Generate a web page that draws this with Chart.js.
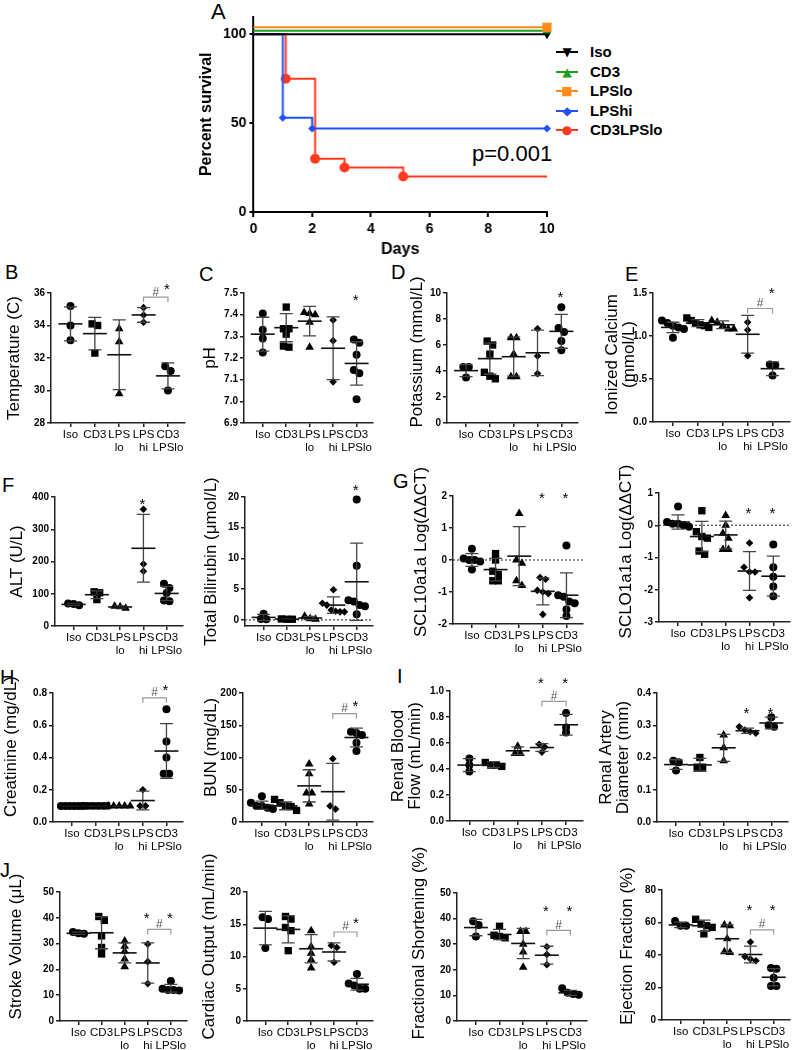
<!DOCTYPE html>
<html><head><meta charset="utf-8">
<script src="https://cdn.jsdelivr.net/npm/chart.js@4.4.0/dist/chart.umd.min.js"></script>
<style>
html,body{margin:0;padding:0;background:#fff;width:795px;height:1050px;overflow:hidden;position:relative;font-family:'Liberation Sans',Arial,sans-serif;}
canvas{position:absolute;}
.lt{position:absolute;font-size:20px;line-height:1;color:#000;}
.lg{position:absolute;left:556px;height:18px;width:110px;}
.lg .ln{position:absolute;left:0;top:8px;width:22px;height:0;border-top:2px solid;}
.lg .mk{position:absolute;left:4px;top:0;width:14px;text-align:center;font-family:'DejaVu Sans';font-size:12px;line-height:18px;}
.lg .tx{position:absolute;left:34px;top:0;font-weight:bold;font-size:15px;line-height:18px;color:#000;}
#pval{position:absolute;left:472px;top:143px;font-size:22px;line-height:1;}
</style></head><body>
<div class="lt" style="left:211px;top:1px;font-size:22px">A</div>
<div class="lt" style="left:5px;top:262px">B</div>
<div class="lt" style="left:199px;top:264px">C</div>
<div class="lt" style="left:391px;top:262px">D</div>
<div class="lt" style="left:625px;top:264px">E</div>
<div class="lt" style="left:2px;top:475px">F</div>
<div class="lt" style="left:393px;top:471px">G</div>
<div class="lt" style="left:0px;top:667px">H</div>
<div class="lt" style="left:397px;top:666px">I</div>
<div class="lt" style="left:0px;top:860px">J</div>
<div id="pval">p=0.001</div>
<div id="legend"></div>
<script>
// ---------- Panel A: survival ----------
const survSeries = ['Iso', 'CD3', 'LPSlo', 'LPShi', 'CD3LPSlo'];
const isoDays = [0, 10],               isoSurv = [100, 100];
const cd3Days = [0, 10],               cd3Surv = [100, 100];
const lpsloDays = [0, 10],             lpsloSurv = [100, 100];
const lpshiDays = [0, 1, 2, 10],       lpshiSurv = [100, 53, 47, 47];
const comboDays = [0, 1.1, 2.1, 3.1, 5.1, 10], comboSurv = [100, 75, 30, 25, 20, 20];
const survDayTicks = [0, 2, 4, 6, 8, 10];
const survPctTicks = [0, 50, 100];

// ---------- Scatter panels ----------
const groupLabels = [['Iso'], ['CD3'], ['LPS', 'lo'], ['LPS', 'hi'], ['CD3', 'LPSlo']];

const temperature = [[35.2, 34.0, 33.1], [34.1, 34.0, 32.3], [33.8, 33.0, 29.8], [35.1, 34.65, 34.2], [31.5, 31.2, 30.0]];
const temperatureMean = [34.1, 33.5, 32.2, 34.65, 30.9];
const temperatureSD = [1.05, 1.0, 2.15, 0.45, 0.8];
const temperatureTicks = [28, 30, 32, 34, 36];

const pH = [[7.405, 7.33, 7.29, 7.225], [7.435, 7.335, 7.335, 7.31, 7.255, 7.25], [7.41, 7.405, 7.40, 7.365, 7.25], [7.375, 7.28, 7.09], [7.285, 7.27, 7.215, 7.145, 7.13, 7.01]];
const pHMean = [7.31, 7.34, 7.37, 7.245, 7.175];
const pHSD = [0.078, 0.065, 0.068, 0.145, 0.1];
const pHTicks = [6.9, 7.0, 7.1, 7.2, 7.3, 7.4, 7.5];

const potassium = [[4.3, 4.3, 3.5], [6.3, 6.0, 5.3, 3.9, 3.6, 3.4], [6.55, 6.55, 5.3, 3.55, 3.55], [7.25, 5.15, 3.8], [8.9, 7.3, 7.0, 6.3, 5.6]];
const potassiumMean = [4.03, 4.95, 5.1, 5.4, 7.05];
const potassiumSD = [0.46, 1.2, 1.5, 1.75, 1.3];
const potassiumTicks = [0, 2, 4, 6, 8, 10];

const calcium = [[1.18, 1.15, 1.12, 1.10, 1.08, 0.98], [1.21, 1.18, 1.15, 1.13, 1.12, 1.10], [1.18, 1.16, 1.12, 1.08, 1.08], [1.16, 1.07, 0.77], [0.67, 0.66, 0.54]];
const calciumMean = [1.10, 1.15, 1.13, 1.02, 0.62];
const calciumSD = [0.06, 0.04, 0.045, 0.22, 0.08];
const calciumTicks = [0, 0.5, 1.0, 1.5];

const alt = [[64, 70, 68], [106, 103, 82], [55, 60, 61], [362, 192, 170], [131, 118, 102, 79, 77]];
const altMean = [67, 97, 59, 241, 101];
const altSD = [3, 12, 3, 105, 22];
const altTicks = [0, 100, 200, 300, 400];

const bilirubin = [[1.0, 0.15, 0.1], [0.15, 0.1, 0.1], [0.6, 0.2, 0.1], [4.9, 2.7, 2.4, 1.6, 1.4, 1.3, 1.3], [19.6, 8.8, 3.2, 3.0, 2.4, 2.2, 0.9]];
const bilirubinMean = [0.4, 0.12, 0.3, 2.4, 6.2];
const bilirubinSD = [0.5, 0.03, 0.26, 1.35, 6.3];
const bilirubinTicks = [0, 5, 10, 15, 20];

const scl10 = [[0.35, 0.05, 0.0, 0.0, -0.05, -0.3], [0.2, 0.0, -0.35, -0.45, -0.65, -0.65], [1.45, 0.0, -0.1, -0.65, -0.8], [-0.55, -0.6, -0.95, -1.0, -1.05, -1.7], [0.45, -1.1, -1.15, -1.3, -1.35, -1.55, -1.75]];
const scl10Mean = [0.0, -0.3, 0.12, -0.98, -1.1];
const scl10SD = [0.2, 0.35, 0.92, 0.42, 0.7];
const scl10Ticks = [-2, -1, 0, 1, 2];

const sclo1 = [[0.58, 0.1, 0.05, 0.05, 0.0, -0.05], [0.45, -0.2, -0.35, -0.4, -0.8, -0.9], [0.3, 0.0, -0.25, -0.4, -0.75, -0.75], [-0.55, -1.3, -1.45, -1.45, -2.25], [-0.6, -1.3, -1.6, -1.9, -2.2]];
const sclo1Mean = [0.1, -0.35, -0.3, -1.42, -1.58];
const sclo1SD = [0.22, 0.47, 0.43, 0.6, 0.62];
const sclo1Ticks = [-3, -2, -1, 0, 1];

const creatinine = [[0.1, 0.1, 0.1, 0.1, 0.1, 0.1], [0.1, 0.1, 0.1, 0.1, 0.1], [0.1, 0.1, 0.1, 0.1, 0.1], [0.2, 0.1, 0.1], [0.7, 0.5, 0.4, 0.3, 0.3]];
const creatinineMean = [0.1, 0.1, 0.1, 0.133, 0.44];
const creatinineSD = [0, 0, 0, 0.058, 0.17];
const creatinineTicks = [0, 0.2, 0.4, 0.6, 0.8];

const bun = [[40, 30, 25, 25, 22, 20], [35, 30, 25, 24, 18], [90, 75, 45, 45, 28], [98, 25, 20], [140, 138, 135, 123, 110]];
const bunMean = [26, 25, 56, 47, 131];
const bunSD = [6.5, 6, 25, 44, 14.5];
const bunTicks = [0, 50, 100, 150, 200];

const flow = [[0.48, 0.43, 0.38], [0.45, 0.43, 0.43, 0.42], [0.575, 0.52, 0.52], [0.59, 0.57, 0.53], [0.83, 0.72, 0.68]];
const flowMean = [0.43, 0.435, 0.54, 0.565, 0.74];
const flowSD = [0.05, 0.022, 0.03, 0.03, 0.08];
const flowTicks = [0, 0.2, 0.4, 0.6, 0.8, 1.0];

const artery = [[0.19, 0.185, 0.16], [0.20, 0.17, 0.17], [0.27, 0.23, 0.19], [0.295, 0.285, 0.28, 0.275], [0.325, 0.30, 0.295]];
const arteryMean = [0.178, 0.177, 0.23, 0.283, 0.307];
const arterySD = [0.015, 0.02, 0.042, 0.008, 0.018];
const arteryTicks = [0, 0.1, 0.2, 0.3, 0.4];

const strokeVol = [[34.5, 34.0, 33.8], [40.5, 39.0, 33.0, 28.5, 26.0], [31, 29, 27, 24, 21], [29.8, 23, 14.5], [15.5, 12.5, 12, 12, 11.8]];
const strokeVolMean = [34, 34.2, 26.4, 22.5, 12.7];
const strokeVolSD = [0.4, 6.2, 3.9, 7.8, 1.5];
const strokeVolTicks = [0, 10, 20, 30, 40, 50];

const cardiacOut = [[16.1, 15.8, 11.3], [16.2, 15.8, 14.5, 14.0, 10.9], [14.0, 11.5, 10.5, 9.5, 8.2], [11.7, 11.4, 9.1], [7.3, 5.8, 5.5, 5.0, 5.0]];
const cardiacOutMean = [14.4, 14.2, 11.2, 10.7, 5.7];
const cardiacOutSD = [2.6, 2.1, 2.2, 1.4, 0.9];
const cardiacOutTicks = [0, 5, 10, 15, 20];

const fracShort = [[39, 37.5, 33], [37, 33.5, 33, 32.5], [35, 35, 30, 27, 21], [29, 26, 22], [12.8, 11, 10.5, 10.3]];
const fracShortMean = [36.5, 33.8, 30.3, 25.7, 11];
const fracShortSD = [3.2, 2, 5.9, 3.5, 1];
const fracShortTicks = [0, 10, 20, 30, 40, 50];

const ejection = [[61, 58, 58], [62, 59, 58, 57, 53], [58.5, 58, 50, 42, 41.5], [48, 39, 37.5, 36.5], [32, 31.5, 26, 21, 21]];
const ejectionMean = [58.5, 58, 50, 40.3, 26.3];
const ejectionSD = [1.7, 3.5, 8.5, 5.2, 5.3];
const ejectionTicks = [0, 20, 40, 60, 80];

// ---------- styles ----------
const FONT = "'Liberation Sans', Arial, sans-serif";
Chart.defaults.font.family = FONT;
Chart.defaults.color = '#000';
const groupStyle = ['circle', 'rect', 'triangle', 'rectRot', 'circle'];
const groupRadius = [4, 5.2, 5, 3.8, 4];

function spread(vals, ppu, thr) {
  const idx = vals.map((v, i) => i).sort((a, b) => vals[b] - vals[a]);
  const offs = new Array(vals.length).fill(0);
  let cl = [idx[0]];
  const flush = () => {
    const n = cl.length, s = n > 1 ? Math.min(5.5, 22 / (n - 1)) : 0;
    cl.forEach((k, j) => { offs[k] = (j - (n - 1) / 2) * s; });
  };
  for (let i = 1; i < idx.length; i++) {
    if ((vals[idx[i - 1]] - vals[idx[i]]) * ppu < thr) cl.push(idx[i]);
    else { flush(); cl = [idx[i]]; }
  }
  flush();
  return offs;
}

function decoPlugin(p) {
  return {
    id: 'deco',
    beforeDatasetsDraw(chart) {
      if (!p.zero) return;
      const { ctx, chartArea: a, scales: { y } } = chart;
      const yy = y.getPixelForValue(0);
      ctx.save(); ctx.setLineDash([2, 2]); ctx.strokeStyle = '#444'; ctx.lineWidth = 1.2;
      ctx.beginPath(); ctx.moveTo(a.left, yy); ctx.lineTo(a.right, yy); ctx.stroke(); ctx.restore();
    },
    afterDatasetsDraw(chart) {
      const { ctx, scales: { x, y } } = chart;
      ctx.save();
      p.mean.forEach((m, g) => {
        const px = x.getPixelForValue(g);
        const pm = y.getPixelForValue(m), ph = y.getPixelForValue(m + p.sd[g]), pl = y.getPixelForValue(m - p.sd[g]);
        ctx.strokeStyle = '#444'; ctx.lineWidth = 1.3;
        ctx.beginPath(); ctx.moveTo(px, ph); ctx.lineTo(px, pl);
        ctx.moveTo(px - 6.5, ph); ctx.lineTo(px + 6.5, ph);
        ctx.moveTo(px - 6.5, pl); ctx.lineTo(px + 6.5, pl); ctx.stroke();
        ctx.strokeStyle = '#111'; ctx.lineWidth = 1.6;
        ctx.beginPath(); ctx.moveTo(px - 12, pm); ctx.lineTo(px + 12, pm); ctx.stroke();
      });
      if (p.bracket != null) {
        const x1 = x.getPixelForValue(3), x2 = x.getPixelForValue(4), yb = y.getPixelForValue(p.bracket);
        ctx.strokeStyle = '#999'; ctx.lineWidth = 1.2;
        ctx.beginPath(); ctx.moveTo(x1, yb + 5); ctx.lineTo(x1, yb); ctx.lineTo(x2, yb); ctx.lineTo(x2, yb + 5); ctx.stroke();
        ctx.fillStyle = '#555'; ctx.font = '12px ' + FONT; ctx.textAlign = 'center'; ctx.textBaseline = 'alphabetic';
        ctx.fillText('#', (x1 + x2) / 2, yb - 1.5);
      }
      ctx.fillStyle = '#000'; ctx.font = '15px ' + FONT; ctx.textAlign = 'center'; ctx.textBaseline = 'alphabetic';
      p.stars.forEach(g => {
        ctx.fillText('*', x.getPixelForValue(g) - 1, y.getPixelForValue(p.starY) + 8.7);
      });
      ctx.restore();
    }
  };
}

function makePanel(p) {
  const A = p.area;
  const cx = Math.floor(p.titleX - 8.5 - 2);
  const cy = A.t - 60;
  const xAxisH = 34;
  const cw = A.r - cx + 24;
  const ch = A.b - cy + xAxisH + 30;
  const cv = document.createElement('canvas');
  cv.width = cw; cv.height = ch;
  cv.style.left = cx + 'px'; cv.style.top = cy + 'px';
  cv.style.width = cw + 'px'; cv.style.height = ch + 'px';
  document.body.appendChild(cv);
  const xmin = -0.8, xmax = 4.7;
  const ppu = (A.b - A.t) / (p.ymax - p.ymin);
  const sp = (A.r - A.l) / (xmax - xmin);
  const datasets = p.data.map((vals, g) => {
    const offs = spread(vals, ppu, 5);
    return {
      data: vals.map((v, i) => ({ x: g + offs[i] / sp, y: v })),
      pointStyle: groupStyle[g], pointRadius: groupRadius[g],
      backgroundColor: '#000', borderColor: '#000', borderWidth: 0, clip: false
    };
  });
  new Chart(cv, {
    type: 'scatter',
    data: { datasets },
    options: {
      responsive: false, animation: false, devicePixelRatio: 1, events: [],
      layout: { padding: { left: 0, top: A.t - cy, right: cw - (A.r - cx), bottom: ch - (A.b - cy) - xAxisH } },
      plugins: { legend: { display: false }, tooltip: { enabled: false } },
      scales: {
        x: {
          type: 'linear', min: xmin, max: xmax,
          afterBuildTicks: s => { s.ticks = [0, 1, 2, 3, 4].map(v => ({ value: v })); },
          afterFit: s => { s.height = xAxisH; },
          ticks: { autoSkip: false, maxRotation: 0, minRotation: 0, padding: 1, color: '#000',
                   font: { size: 11.5, family: FONT, lineHeight: 1.13 },
                   callback: v => groupLabels[Math.round(v)] },
          grid: { drawOnChartArea: false, drawTicks: true, tickLength: 4, color: '#222', lineWidth: 1.5 },
          border: { display: true, color: '#222', width: 1.5 }
        },
        y: {
          type: 'linear', min: p.ymin, max: p.ymax,
          afterBuildTicks: s => { s.ticks = p.ticks.map(v => ({ value: v })); },
          afterFit: s => { s.width = A.l - cx; },
          afterUpdate: s => {
            if (s._tpatched || !p.titleDy) return;
            const orig = s.drawTitle;
            s.drawTitle = function () { this.ctx.save(); this.ctx.translate(0, p.titleDy); orig.call(this); this.ctx.restore(); };
            s._tpatched = true;
          },
          ticks: { autoSkip: false, padding: 2, color: '#000', font: { size: 10, weight: 'bold', family: FONT },
                   callback: v => Number(v).toFixed(p.dec) },
          title: { display: true, text: p.title, color: '#000', font: { size: 17, lineHeight: 1.0, family: FONT },
                   padding: { top: 2, bottom: 0 } },
          grid: { drawOnChartArea: false, drawTicks: true, tickLength: 4, color: '#222', lineWidth: 1.5 },
          border: { display: true, color: '#222', width: 1.5 }
        }
      }
    },
    plugins: [decoPlugin(p)]
  });
}

const panels = [
  { data: temperature, mean: temperatureMean, sd: temperatureSD, ticks: temperatureTicks, ymin: 28, ymax: 36, dec: 0,
    area: { l: 51, r: 185, t: 293, b: 423 }, titleX: 15, titleDy: 0, title: 'Temperature (C)', stars: [4], starY: 36.5, bracket: 35.75 },
  { data: pH, mean: pHMean, sd: pHSD, ticks: pHTicks, ymin: 6.9, ymax: 7.5, dec: 1,
    area: { l: 244, r: 373, t: 293, b: 423 }, titleX: 211, titleDy: 0, title: 'pH', stars: [4], starY: 7.485, bracket: null },
  { data: potassium, mean: potassiumMean, sd: potassiumSD, ticks: potassiumTicks, ymin: 0, ymax: 10, dec: 0,
    area: { l: 447, r: 578, t: 293, b: 423 }, titleX: 418, titleDy: -6, title: 'Potassium (mmol/L)', stars: [4], starY: 10.0, bracket: null },
  { data: calcium, mean: calciumMean, sd: calciumSD, ticks: calciumTicks, ymin: 0, ymax: 1.5, dec: 1,
    area: { l: 653, r: 790, t: 293, b: 422 }, titleX: 613, titleDy: -3, title: ['Ionized Calcium', '(mmol/L)'], stars: [4], starY: 1.54, bracket: 1.32 },

  { data: alt, mean: altMean, sd: altSD, ticks: altTicks, ymin: 0, ymax: 400, dec: 0,
    area: { l: 55, r: 183, t: 497, b: 626 }, titleX: 18, titleDy: 0, title: 'ALT (U/L)', stars: [3], starY: 390, bracket: null },
  { data: bilirubin, mean: bilirubinMean, sd: bilirubinSD, ticks: bilirubinTicks, ymin: -1, ymax: 20, dec: 0, zero: true,
    area: { l: 245, r: 373, t: 497, b: 626 }, titleX: 212, titleDy: 0, title: 'Total Bilirubin (\u03bcmol/L)', stars: [4], starY: 21.7, bracket: null },
  { data: scl10, mean: scl10Mean, sd: scl10SD, ticks: scl10Ticks, ymin: -2, ymax: 2, dec: 0, zero: true,
    area: { l: 453, r: 583, t: 496, b: 624 }, titleX: 422, titleDy: -8, title: 'SCL10a1a Log(\u0394\u0394CT)', stars: [3, 4], starY: 2.05, bracket: null },
  { data: sclo1, mean: sclo1Mean, sd: sclo1SD, ticks: sclo1Ticks, ymin: -3, ymax: 1, dec: 0, zero: true,
    area: { l: 659, r: 790, t: 493, b: 622 }, titleX: 627, titleDy: -6, title: 'SCLO1a1a Log(\u0394\u0394CT)', stars: [3, 4], starY: 0.5, bracket: null },

  { data: creatinine, mean: creatinineMean, sd: creatinineSD, ticks: creatinineTicks, ymin: 0, ymax: 0.8, dec: 1,
    area: { l: 53, r: 183, t: 693, b: 822 }, titleX: 12, titleDy: -11, title: 'Creatinine (mg/dL)', stars: [4], starY: 0.84, bracket: 0.77 },
  { data: bun, mean: bunMean, sd: bunSD, ticks: bunTicks, ymin: 0, ymax: 200, dec: 0,
    area: { l: 243, r: 373, t: 693, b: 822 }, titleX: 212, titleDy: -10, title: 'BUN (mg/dL)', stars: [4], starY: 185, bracket: 168 },
  { data: flow, mean: flowMean, sd: flowSD, ticks: flowTicks, ymin: 0, ymax: 1.0, dec: 1,
    area: { l: 450, r: 583, t: 691, b: 821 }, titleX: 399, titleDy: 0, title: ['Renal Blood', 'Flow (mL/min)'], stars: [3, 4], starY: 1.09, bracket: 0.92 },
  { data: artery, mean: arteryMean, sd: arterySD, ticks: arteryTicks, ymin: 0, ymax: 0.4, dec: 1,
    area: { l: 657, r: 788, t: 693, b: 822 }, titleX: 607, titleDy: 0, title: ['Renal Artery', 'Diameter (mm)'], stars: [3, 4], starY: 0.35, bracket: null },

  { data: strokeVol, mean: strokeVolMean, sd: strokeVolSD, ticks: strokeVolTicks, ymin: 0, ymax: 50, dec: 0,
    area: { l: 60, r: 187, t: 892, b: 1021 }, titleX: 17, titleDy: -10, title: 'Stroke Volume (\u03bcL)', stars: [3, 4], starY: 41.5, bracket: 35.5 },
  { data: cardiacOut, mean: cardiacOutMean, sd: cardiacOutSD, ticks: cardiacOutTicks, ymin: 0, ymax: 20, dec: 0,
    area: { l: 247, r: 373, t: 892, b: 1021 }, titleX: 210, titleDy: -10, title: 'Cardiac Output (mL/min)', stars: [4], starY: 15.7, bracket: 13.8 },
  { data: fracShort, mean: fracShortMean, sd: fracShortSD, ticks: fracShortTicks, ymin: 0, ymax: 50, dec: 0,
    area: { l: 457, r: 587, t: 893, b: 1021 }, titleX: 420, titleDy: -14, title: 'Fractional Shortening (%)', stars: [3, 4], starY: 44.5, bracket: 35.4 },
  { data: ejection, mean: ejectionMean, sd: ejectionSD, ticks: ejectionTicks, ymin: 0, ymax: 80, dec: 0,
    area: { l: 662, r: 790, t: 890, b: 1020 }, titleX: 628, titleDy: -9, title: 'Ejection Fraction (%)', stars: [3, 4], starY: 70, bracket: 55.5 }
];
panels.forEach(makePanel);

// ---------- survival chart ----------
(function () {
  const A = { l: 253.3, r: 546.7, t: 16.5, b: 212.3 };
  const cx = 197, cy = 0, xAxisH = 50;
  const cw = A.r - cx + 20, ch = A.b + xAxisH + 5;
  const cv = document.createElement('canvas');
  cv.width = cw; cv.height = ch;
  cv.style.left = cx + 'px'; cv.style.top = cy + 'px';
  cv.style.width = cw + 'px'; cv.style.height = ch + 'px';
  document.body.appendChild(cv);
  const pts = (d, s) => d.map((v, i) => ({ x: v, y: s[i] }));
  const colors = { Iso: '#000000', CD3: '#1ea01e', LPSlo: '#ff8c1a', LPShi: '#2050ff', CD3LPSlo: '#ff3a1f' };
  const ds = (name, d, s, style, rad, rot, nudgePx) => ({
    label: name, data: pts(d, s), stepped: true, borderColor: colors[name], backgroundColor: colors[name],
    borderWidth: 2, pointStyle: style, pointRadius: rad, pointRotation: rot, pointBorderWidth: 0,
    fill: false, clip: false, nudge: nudgePx
  });
  const nudge = {
    id: 'nudge',
    beforeDatasetDraw(chart, args) { const d = chart.data.datasets[args.index]; chart.ctx.save(); chart.ctx.translate(0, d.nudge || 0); },
    afterDatasetDraw(chart) { chart.ctx.restore(); }
  };
  new Chart(cv, {
    type: 'line',
    data: { datasets: [
      ds('LPSlo', lpsloDays, lpsloSurv, 'rect', [0, 6.5], 0, -7),
      ds('CD3', cd3Days, cd3Surv, 'triangle', [0, 5], 0, -3.5),
      ds('Iso', isoDays, isoSurv, 'triangle', [0, 5], 180, 0),
      ds('LPShi', lpshiDays, lpshiSurv, 'rectRot', [0, 4, 4, 4], 0, 0),
      ds('CD3LPSlo', comboDays, comboSurv, 'circle', [0, 5, 5, 5, 5, 0], 0, 0)
    ] },
    options: {
      responsive: false, animation: false, devicePixelRatio: 1, events: [],
      layout: { padding: { left: 0, top: A.t, right: cw - (A.r - cx), bottom: ch - A.b - xAxisH } },
      plugins: { legend: { display: false }, tooltip: { enabled: false } },
      scales: {
        x: {
          type: 'linear', min: 0, max: 10,
          afterBuildTicks: s => { s.ticks = survDayTicks.map(v => ({ value: v })); },
          afterFit: s => { s.height = xAxisH; },
          ticks: { autoSkip: false, maxRotation: 0, padding: 5, color: '#000', font: { size: 14, weight: 'bold', lineHeight: 1 } },
          title: { display: true, text: 'Days', color: '#000', font: { size: 16, weight: 'bold', lineHeight: 1 }, padding: { top: 0, bottom: 4 } },
          grid: { drawOnChartArea: false, drawTicks: true, tickLength: 5, color: '#000', lineWidth: 2 },
          border: { display: true, color: '#000', width: 2 }
        },
        y: {
          type: 'linear', min: 0, max: 110,
          afterBuildTicks: s => { s.ticks = survPctTicks.map(v => ({ value: v })); },
          afterFit: s => { s.width = A.l - cx; },
          ticks: { autoSkip: false, padding: 3, color: '#000', font: { size: 14, weight: 'bold' } },
          title: { display: true, text: 'Percent survival', color: '#000', font: { size: 16, weight: 'bold', lineHeight: 1 }, padding: { top: 2, bottom: 0 } },
          grid: { drawOnChartArea: false, drawTicks: true, tickLength: 4, color: '#000', lineWidth: 2 },
          border: { display: true, color: '#000', width: 2 }
        }
      }
    },
    plugins: [nudge]
  });

  // legend
  const glyph = { Iso: '\u25BC', CD3: '\u25B2', LPSlo: '\u25A0', LPShi: '\u25C6', CD3LPSlo: '\u25CF' };
  const lg = document.getElementById('legend');
  survSeries.forEach((name, i) => {
    const d = document.createElement('div');
    d.className = 'lg';
    d.style.top = (43 + i * 19.5) + 'px';
    d.innerHTML = '<div class="ln" style="border-color:' + colors[name] + '"></div>' +
      '<div class="mk" style="color:' + colors[name] + '">' + glyph[name] + '</div>' +
      '<div class="tx">' + name + '</div>';
    lg.appendChild(d);
  });
})();
</script>
</body></html>
